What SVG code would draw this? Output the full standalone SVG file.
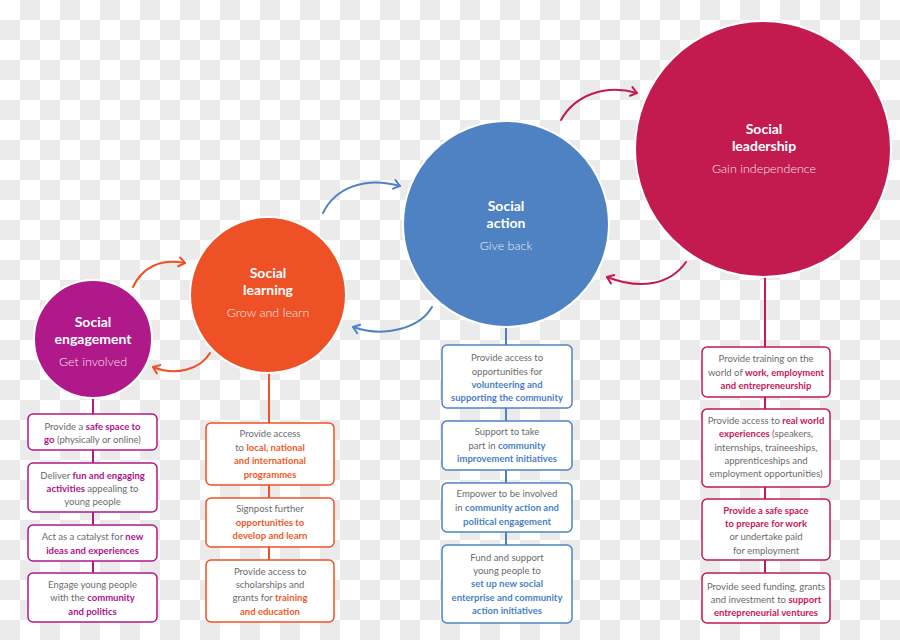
<svg xmlns="http://www.w3.org/2000/svg" width="900" height="640" viewBox="0 0 900 640">
<defs>
<pattern id="checker" x="0" y="0" width="40" height="40" patternUnits="userSpaceOnUse">
<rect width="40" height="40" fill="#ffffff"/>
<rect x="20" y="0" width="20" height="20" fill="#ebebeb"/>
<rect x="0" y="20" width="20" height="20" fill="#ebebeb"/>
</pattern>
<marker id="mO" viewBox="-8 -6 10 12" markerWidth="10" markerHeight="12" refX="0" refY="0" orient="auto" markerUnits="userSpaceOnUse"><path d="M-6,-4.5 L0,0 L-6,4.5" fill="none" stroke="#ef5127" stroke-width="2" stroke-linecap="round" stroke-linejoin="round"/></marker>
<marker id="mB" viewBox="-8 -6 10 12" markerWidth="10" markerHeight="12" refX="0" refY="0" orient="auto" markerUnits="userSpaceOnUse"><path d="M-6,-4.5 L0,0 L-6,4.5" fill="none" stroke="#4e82c3" stroke-width="2" stroke-linecap="round" stroke-linejoin="round"/></marker>
<marker id="mC" viewBox="-8 -6 10 12" markerWidth="10" markerHeight="12" refX="0" refY="0" orient="auto" markerUnits="userSpaceOnUse"><path d="M-6,-4.5 L0,0 L-6,4.5" fill="none" stroke="#c31b4f" stroke-width="2" stroke-linecap="round" stroke-linejoin="round"/></marker>
</defs>
<style>
.ttl{font-family:Lato,"Noto Sans",sans-serif;font-weight:700;font-size:14px;fill:#fff;text-anchor:middle}
.sub{font-family:Lato,"Noto Sans",sans-serif;font-weight:300;font-size:12.5px;fill:#fff;fill-opacity:0.92;text-anchor:middle}
.bx{font-family:Lato,"Noto Sans",sans-serif;font-size:9.5px;fill:#6b6b6b;text-anchor:middle}
.box{fill:#fff;stroke-width:1.5}
.arr{fill:none;stroke-width:2;stroke-linecap:round}
.cE{fill:#b0198a}.cL{fill:#ef5127}.cA{fill:#4e82c3}.cS{fill:#c31b4f}
.sE{stroke:#b0198a}.sL{stroke:#ef5127}.sA{stroke:#4e82c3}.sS{stroke:#c31b4f}
.hE{fill:#b0128c;font-weight:700}.hL{fill:#ef5a2b;font-weight:700}.hA{fill:#4a7fc5;font-weight:700}.hS{fill:#c8175a;font-weight:700}
.ln{stroke-width:2}
</style>
<rect width="900" height="640" fill="url(#checker)"/>

<g id="connectors">
<line class="ln sE" x1="93" y1="396" x2="93" y2="573"/>
<line class="ln sL" x1="269" y1="372" x2="269" y2="560"/>
<line class="ln sA" x1="506" y1="326" x2="506" y2="545"/>
<line class="ln sS" x1="765" y1="276" x2="765" y2="573"/>
<path class="arr sL" d="M133,287 C142,268 160,258 185,263" marker-end="url(#mO)"/>
<path class="arr sL" d="M210,353 C200,370 175,376 153,367" marker-end="url(#mO)"/>
<path class="arr sA" d="M323,213 C335,188 365,176 400,186" marker-end="url(#mB)"/>
<path class="arr sA" d="M432,307 C420,328 385,338 353,327" marker-end="url(#mB)"/>
<path class="arr sS" d="M561,120 C575,95 605,84 637,93" marker-end="url(#mC)"/>
<path class="arr sS" d="M686,262 C670,285 640,290 607,277" marker-end="url(#mC)"/>
</g>

<g id="social-engagement">
<circle class="cE" cx="93" cy="339" r="59" stroke="#fff" stroke-width="2"/>
<text class="ttl" x="93" y="327">Social</text>
<text class="ttl" x="93" y="344">engagement</text>
<text class="sub" x="93" y="366">Get involved</text>
</g>
<g id="social-learning">
<circle class="cL" cx="268" cy="295" r="78" stroke="#fff" stroke-width="2"/>
<text class="ttl" x="268" y="278">Social</text>
<text class="ttl" x="268" y="295">learning</text>
<text class="sub" x="268" y="317">Grow and learn</text>
</g>
<g id="social-action">
<circle class="cA" cx="506" cy="224" r="103" stroke="#fff" stroke-width="2"/>
<text class="ttl" x="506" y="211">Social</text>
<text class="ttl" x="506" y="228">action</text>
<text class="sub" x="506" y="250">Give back</text>
</g>
<g id="social-leadership">
<circle class="cS" cx="763" cy="149" r="128" stroke="#fff" stroke-width="2"/>
<text class="ttl" x="764" y="134">Social</text>
<text class="ttl" x="764" y="151">leadership</text>
<text class="sub" x="764" y="173">Gain independence</text>
</g>

<g id="e1"><rect class="box sE" x="28" y="414" width="129" height="36" rx="5"/>
<text class="bx" x="92.5" y="430">Provide a <tspan class="hE">safe space to</tspan></text>
<text class="bx" x="92.5" y="443"><tspan class="hE">go</tspan> (physically or online)</text></g>
<g id="e2"><rect class="box sE" x="28" y="463" width="129" height="49" rx="5"/>
<text class="bx" x="92.5" y="479">Deliver <tspan class="hE">fun and engaging</tspan></text>
<text class="bx" x="92.5" y="492"><tspan class="hE">activities</tspan> appealing to</text>
<text class="bx" x="92.5" y="505">young people</text></g>
<g id="e3"><rect class="box sE" x="28" y="525" width="129" height="36" rx="5"/>
<text class="bx" x="92.5" y="540">Act as a catalyst for <tspan class="hE">new</tspan></text>
<text class="bx" x="92.5" y="554"><tspan class="hE">ideas and experiences</tspan></text></g>
<g id="e4"><rect class="box sE" x="28" y="573" width="129" height="49" rx="5"/>
<text class="bx" x="92.5" y="588">Engage young people</text>
<text class="bx" x="92.5" y="601">with the <tspan class="hE">community</tspan></text>
<text class="bx" x="92.5" y="615"><tspan class="hE">and politics</tspan></text></g>

<g id="l1"><rect class="box sL" x="206" y="423" width="128" height="62" rx="5"/>
<text class="bx" x="270" y="437">Provide access</text>
<text class="bx" x="270" y="451">to <tspan class="hL">local, national</tspan></text>
<text class="bx" x="270" y="464"><tspan class="hL">and international</tspan></text>
<text class="bx" x="270" y="478"><tspan class="hL">programmes</tspan></text></g>
<g id="l2"><rect class="box sL" x="206" y="498" width="128" height="49" rx="5"/>
<text class="bx" x="270" y="512">Signpost further</text>
<text class="bx" x="270" y="526"><tspan class="hL">opportunities to</tspan></text>
<text class="bx" x="270" y="539"><tspan class="hL">develop and learn</tspan></text></g>
<g id="l3"><rect class="box sL" x="206" y="560" width="128" height="62" rx="5"/>
<text class="bx" x="270" y="575">Provide access to</text>
<text class="bx" x="270" y="588">scholarships and</text>
<text class="bx" x="270" y="601">grants for <tspan class="hL">training</tspan></text>
<text class="bx" x="270" y="615"><tspan class="hL">and education</tspan></text></g>

<g id="a1"><rect class="box sA" x="442" y="345" width="130" height="63" rx="5"/>
<text class="bx" x="507" y="361">Provide access to</text>
<text class="bx" x="507" y="375">opportunities for</text>
<text class="bx" x="507" y="388"><tspan class="hA">volunteering and</tspan></text>
<text class="bx" x="507" y="401"><tspan class="hA">supporting the community</tspan></text></g>
<g id="a2"><rect class="box sA" x="442" y="421" width="130" height="49" rx="5"/>
<text class="bx" x="507" y="435">Support to take</text>
<text class="bx" x="507" y="449">part in <tspan class="hA">community</tspan></text>
<text class="bx" x="507" y="462"><tspan class="hA">improvement initiatives</tspan></text></g>
<g id="a3"><rect class="box sA" x="442" y="483" width="130" height="49" rx="5"/>
<text class="bx" x="507" y="497">Empower to be involved</text>
<text class="bx" x="507" y="511">in <tspan class="hA">community action and</tspan></text>
<text class="bx" x="507" y="525"><tspan class="hA">political engagement</tspan></text></g>
<g id="a4"><rect class="box sA" x="442" y="545" width="130" height="78" rx="5"/>
<text class="bx" x="507" y="561">Fund and support</text>
<text class="bx" x="507" y="574">young people to</text>
<text class="bx" x="507" y="587"><tspan class="hA">set up new social</tspan></text>
<text class="bx" x="507" y="601"><tspan class="hA">enterprise and community</tspan></text>
<text class="bx" x="507" y="614"><tspan class="hA">action initiatives</tspan></text></g>

<g id="s1"><rect class="box sS" x="702" y="347" width="128" height="50" rx="5"/>
<text class="bx" x="766" y="362">Provide training on the</text>
<text class="bx" x="766" y="376">world of <tspan class="hS">work, employment</tspan></text>
<text class="bx" x="766" y="389"><tspan class="hS">and entrepreneurship</tspan></text></g>
<g id="s2"><rect class="box sS" x="702" y="409" width="128" height="78" rx="5"/>
<text class="bx" x="766" y="424">Provide access to <tspan class="hS">real world</tspan></text>
<text class="bx" x="766" y="437"><tspan class="hS">experiences</tspan> (speakers,</text>
<text class="bx" x="766" y="451">internships, traineeships,</text>
<text class="bx" x="766" y="464">apprenticeships and</text>
<text class="bx" x="766" y="477">employment opportunities)</text></g>
<g id="s3"><rect class="box sS" x="702" y="499" width="128" height="61" rx="5"/>
<text class="bx" x="766" y="514"><tspan class="hS">Provide a safe space</tspan></text>
<text class="bx" x="766" y="527"><tspan class="hS">to prepare for work</tspan></text>
<text class="bx" x="766" y="540">or undertake paid</text>
<text class="bx" x="766" y="554">for employment</text></g>
<g id="s4"><rect class="box sS" x="702" y="573" width="128" height="50" rx="5"/>
<text class="bx" x="766" y="590">Provide seed funding, grants</text>
<text class="bx" x="766" y="603">and investment to <tspan class="hS">support</tspan></text>
<text class="bx" x="766" y="616"><tspan class="hS">entrepreneurial ventures</tspan></text></g>
</svg>
